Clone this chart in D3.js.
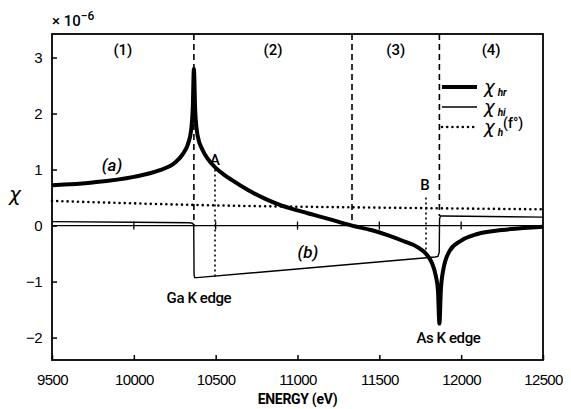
<!DOCTYPE html>
<html>
<head>
<meta charset="utf-8">
<script src="https://cdn.jsdelivr.net/npm/d3@7"></script>
<style>
  body { margin: 0; background: #fff; }
  svg { display: block; font-family: Roboto, 'Liberation Sans', sans-serif; }
</style>
</head>
<body>
<svg id="chart" width="571" height="409"></svg>
<script>
// chi_hr (thick curve, a)
const hrEnergy = [9500, 9750, 10000, 10150, 10250, 10300, 10330, 10350, 10360, 10367,
  10375, 10390, 10420, 10450, 10500, 10550, 10600, 10700, 10800, 10900, 11000, 11100, 11200,
  11333, 11450, 11550, 11650, 11730, 11790, 11820, 11845, 11858, 11867,
  11876, 11890, 11930, 12000, 12100, 12250, 12500];
const hrValues = [0.72, 0.77, 0.87, 0.98, 1.12, 1.28, 1.45, 1.70, 2.10, 2.80,
  2.05, 1.60, 1.35, 1.20, 1.03, 0.91, 0.81, 0.63, 0.48, 0.36, 0.27, 0.19, 0.11,
  0.0, -0.08, -0.17, -0.28, -0.38, -0.52, -0.66, -0.90, -1.15, -1.75,
  -1.15, -0.80, -0.45, -0.27, -0.15, -0.08, -0.02];

// chi_hi (thin curve, b)
const hiEnergy = [9500, 10000, 10340, 10360, 10366, 10368, 10372, 10385, 11840, 11858, 11866, 11868, 11874, 11890, 12500];
const hiValues = [0.07, 0.06, 0.05, 0.04, 0.0, -0.88, -0.93, -0.93, -0.56, -0.55, -0.48, 0.12, 0.17, 0.17, 0.15];

// chi_h(f0) (dotted)
const f0Energy = [9500, 10500, 11500, 12500];
const f0Values = [0.44, 0.36, 0.32, 0.29];

const xTicks = [9500, 10000, 10500, 11000, 11500, 12000, 12500];
const yTicks = [-2, -1, 0, 1, 2, 3];

// dashed region boundaries: energy, lower end (chi value)
const edgeEnergy = [10367, 11333, 11867];
const edgeBottom = [0, 0, 0.17];

const regionNames = ['(1)', '(2)', '(3)', '(4)'];
const regionCenters = [9933, 10850, 11600, 12183];

// dotted markers A and B: energy, upper and lower chi values
const markerNames = ['A', 'B'];
const markerEnergy = [10496, 11785];
const markerTop = [1.0, 0.5];
const markerBottom = [-0.91, -0.56];

const margin = {top: 34, right: 28, bottom: 49, left: 52};
const width = 571 - margin.left - margin.right;
const height = 409 - margin.top - margin.bottom;

const svg = d3.select('#chart')
  .append('g')
  .attr('transform', 'translate(' + margin.left + ',' + margin.top + ')');

const x = d3.scaleLinear().domain([9500, 12500]).range([0, width]);
const y = d3.scaleLinear().domain([-2.4, 3.42]).range([height, 0]);

// frame
svg.append('rect')
  .attr('width', width).attr('height', height)
  .attr('fill', 'none').attr('stroke', '#000').attr('stroke-width', 1.8);

// axes with inward ticks
const xAxis = svg.append('g')
  .attr('transform', 'translate(0,' + height + ')')
  .call(d3.axisBottom(x).tickValues(xTicks).tickSize(-5).tickPadding(14).tickFormat(d3.format('d')));
xAxis.select('.domain').remove();

const yAxis = svg.append('g')
  .call(d3.axisLeft(y).tickValues(yTicks).tickSize(-5).tickPadding(10).tickFormat(d => d < 0 ? '\u2212' + (-d) : d));
yAxis.select('.domain').remove();

svg.selectAll('.tick line').attr('stroke-width', 1.5);
svg.selectAll('.tick text')
  .attr('font-size', 15).attr('font-weight', 500).attr('fill', '#000')
  .attr('letter-spacing', '-0.6');

// zero line with small ticks
svg.append('line')
  .attr('x1', 0).attr('x2', width).attr('y1', y(0)).attr('y2', y(0))
  .attr('stroke', '#000').attr('stroke-width', 1.3);
svg.selectAll('.zero-tick')
  .data(xTicks.slice(1, -1))
  .enter().append('line')
  .attr('x1', d => x(d)).attr('x2', d => x(d))
  .attr('y1', y(0) - 4).attr('y2', y(0) + 4)
  .attr('stroke', '#000').attr('stroke-width', 1.3);

// dashed region boundaries
svg.selectAll('.edge')
  .data(edgeEnergy)
  .enter().append('line')
  .attr('x1', d => x(d)).attr('x2', d => x(d))
  .attr('y1', 0).attr('y2', (d, i) => y(edgeBottom[i]))
  .attr('stroke', '#000').attr('stroke-width', 1.6)
  .attr('stroke-dasharray', '6,4');

// dotted markers A, B
svg.selectAll('.marker')
  .data(markerEnergy)
  .enter().append('line')
  .attr('x1', d => x(d)).attr('x2', d => x(d))
  .attr('y1', (d, i) => y(markerTop[i])).attr('y2', (d, i) => y(markerBottom[i]))
  .attr('stroke', '#000').attr('stroke-width', 1.6)
  .attr('stroke-dasharray', '2,3');

const line = d3.line()
  .x(d => x(d[0]))
  .y(d => y(d[1]));

// f0 dotted
svg.append('path')
  .datum(d3.zip(f0Energy, f0Values))
  .attr('d', line.curve(d3.curveMonotoneX))
  .attr('fill', 'none').attr('stroke', '#000').attr('stroke-width', 2.6)
  .attr('stroke-linecap', 'round').attr('stroke-dasharray', '0,5.2');

// chi_hi thin
svg.append('path')
  .datum(d3.zip(hiEnergy, hiValues))
  .attr('d', line.curve(d3.curveLinear))
  .attr('fill', 'none').attr('stroke', '#000').attr('stroke-width', 1.4);

// chi_hr thick
svg.append('path')
  .datum(d3.zip(hrEnergy, hrValues))
  .attr('d', line.curve(d3.curveMonotoneX))
  .attr('fill', 'none').attr('stroke', '#000').attr('stroke-width', 4);

// text labels
const label = (px, py, txt, size, opts) => {
  const t = svg.append('text')
    .attr('x', px).attr('y', py)
    .attr('text-anchor', 'middle').attr('dominant-baseline', 'central')
    .attr('font-size', size || 15).attr('font-weight', 500)
    .text(txt);
  if (opts && opts.italic) t.attr('font-style', 'italic');
  return t;
};

regionNames.forEach((n, i) => label(x(regionCenters[i]), 16, n, 15));
markerNames.forEach((n, i) => label(x(markerEnergy[i]) + (i ? -1 : 0), y(markerTop[i]) - (i ? 13 : 10), n, 15));

label(60, 131, '(a)', 17, {italic: true});
label(256, 218, '(b)', 17, {italic: true});
label(x(10367) + 5, 264, 'Ga K edge', 15).attr('letter-spacing', '-0.4');
label(x(11867) + 9, 304, 'As K edge', 15).attr('letter-spacing', '-0.4');

// axis titles
label(width / 2, height + 39, 'ENERGY (eV)', 14).attr('font-weight', 700).attr('letter-spacing', '-0.3');
svg.append('text')
  .attr('x', -37).attr('y', 167)
  .attr('text-anchor', 'middle')
  .attr('font-size', 20).attr('font-style', 'italic')
  .attr('font-family', "'DejaVu Sans', sans-serif")
  .text('\u03C7');

const exp = svg.append('text')
  .attr('x', 0).attr('y', -8)
  .attr('font-size', 15).attr('font-weight', 500);
exp.append('tspan').text('\u00D7 10');
exp.append('tspan').attr('dy', -6).attr('font-size', 12).text('\u22126');

// legend
const legendStyles = [
  {w: 4, dash: null, sub: 'hr', extra: ''},
  {w: 1.4, dash: null, sub: 'hi', extra: ''},
  {w: 2.6, dash: '0,5.2', sub: 'h', extra: '(f\u00B0)'}
];
const legendX = 390;
const legend = svg.selectAll('.legend')
  .data(legendStyles)
  .enter().append('g')
  .attr('transform', (d, i) => 'translate(' + legendX + ',' + (53 + i * 20) + ')');
legend.append('line')
  .attr('x1', 0).attr('x2', 35)
  .attr('stroke', '#000')
  .attr('stroke-width', d => d.w)
  .attr('stroke-linecap', d => d.dash ? 'round' : 'butt')
  .attr('stroke-dasharray', d => d.dash);
const lt = legend.append('text')
  .attr('x', 42).attr('y', 6)
  .attr('font-size', 18).attr('font-style', 'italic')
  .attr('font-family', "'DejaVu Sans', sans-serif");
lt.append('tspan').text('\u03C7');
lt.append('tspan').attr('dx', 3).attr('dy', 3).attr('font-size', 10).attr('font-weight', 700)
  .attr('font-family', 'Roboto, sans-serif').text(d => d.sub);
lt.append('tspan').attr('dy', -8).attr('font-size', 14).attr('font-style', 'normal')
  .attr('font-family', 'Roboto, sans-serif').attr('font-weight', 500).text(d => d.extra);
</script>
</body>
</html>
